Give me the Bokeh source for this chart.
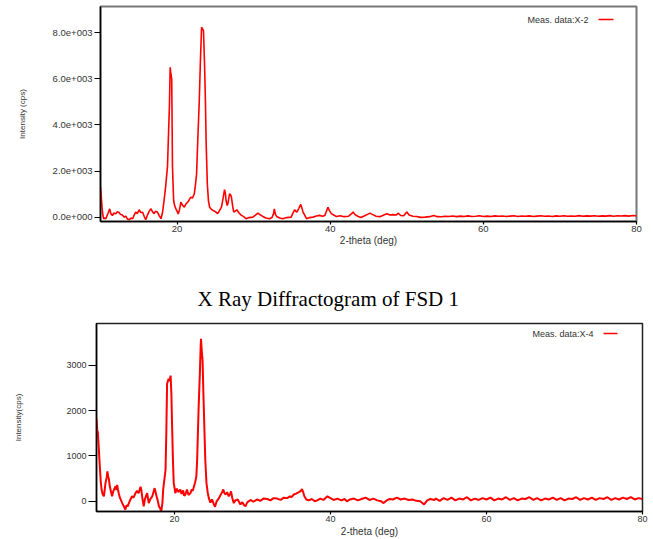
from bokeh.plotting import figure
from bokeh.models import FixedTicker, Range1d, Label, BoxAnnotation
from bokeh.embed import file_html
from bokeh.resources import INLINE

# ---------------- data: FSD sample X-2 (top) ----------------
two_theta_top = [
    10.0, 10.1, 10.2, 10.3, 10.4, 10.55, 10.7, 10.85, 11.0, 11.2, 11.35, 11.55, 11.75, 12.0, 12.2,
    12.4, 12.6, 12.85, 13.1, 13.3, 13.5, 13.75, 14.0, 14.2, 14.4, 14.6, 14.8, 15.05, 15.25, 15.5,
    15.7, 15.9, 16.1, 16.35, 16.6, 16.8, 17.0, 17.2, 17.45, 17.65, 17.9, 18.1, 18.3, 18.5, 18.75,
    18.9, 19.0, 19.1, 19.2, 19.3, 19.4, 19.55, 19.7, 19.85, 20.0, 20.15, 20.3, 20.5, 20.7, 20.95,
    21.2, 21.4, 21.6, 21.8, 22.0, 22.25, 22.4, 22.55, 22.7, 22.9, 23.05, 23.2, 23.35, 23.45, 23.6,
    23.7, 23.8, 23.95, 24.1, 24.25, 24.5, 24.7, 25.0, 25.3, 25.5, 25.8, 26.0, 26.2, 26.3, 26.4,
    26.55, 26.65, 26.85, 27.0, 27.1, 27.25, 27.4, 27.6, 27.8, 28.1, 28.4, 28.7, 29.0, 29.4, 29.9,
    30.2, 30.55, 30.9, 31.2, 31.6, 32.1, 32.4, 32.6, 32.7, 32.85, 33.0, 33.4, 33.8, 34.3, 34.9,
    35.1, 35.35, 35.5, 35.65, 35.9, 36.15, 36.3, 36.45, 36.7, 36.9, 37.3, 37.75, 38.2, 38.6, 39.0,
    39.3, 39.5, 39.7, 39.9, 40.15, 40.5, 40.8, 41.3, 41.8, 42.4, 42.8, 43.0, 43.2, 43.6, 44.0,
    44.5, 45.0, 45.2, 45.5, 46.0, 46.5, 47.0, 47.4, 47.8, 48.2, 48.6, 48.9, 49.2, 49.6, 50.0,
    50.3, 50.8, 51.3, 51.8, 52.4, 53.0, 53.5, 54.0,
    54.5, 55.0, 55.5, 56.0, 56.5, 57.0, 57.5, 58.0, 58.5, 59.0, 59.5, 60.0, 60.5, 61.0, 61.5,
    62.0, 62.5, 63.0, 63.5, 64.0, 64.5, 65.0, 65.5, 66.0, 66.5, 67.0, 67.5, 68.0, 68.5, 69.0,
    69.5, 70.0, 70.5, 71.0, 71.5, 72.0, 72.5, 73.0, 73.5, 74.0, 74.5, 75.0, 75.5, 76.0, 76.5,
    77.0, 77.5, 78.0, 78.5, 79.0, 79.5, 80.0,
]
intensity_top = [
    1300, 900, 430, 120, -70, -40, -70, 60, 180, 360, 150, 70, 180, 140, 230,
    210, 120, 90, 0, 40, -80, -110, -40, -70, 90, 220, 150, 320, 200, 210,
    40, -110, 60, 250, 360, 230, 150, 260, 210, 80, -70, 200, 720, 1300, 2200,
    3800, 4800, 6500, 6200, 6000, 2200, 720, 480, 360, 260, 140, 300, 650, 520, 430,
    600, 650, 760, 870, 820, 1010, 1400, 1880, 3300, 5060, 6800, 8240, 8150, 8100, 6500,
    5060, 3200, 1450, 700, 430, 330, 290, 240, 150, 260, 430, 800, 1190, 1050, 720,
    500, 600, 1010, 960, 870, 500, 220, 260, 320, 180, 75, 20, -70, -20, 0,
    80, 175, 90, 30, -40, -70, -20, 150, 360, 120, 30, -40, -70, -20, 0,
    150, 320, 260, 220, 380, 550, 400, 220, 60, -70, -20, 0, 50, 75, 40,
    75, 250, 430, 280, 150, 80, 30, 60, 20, 40, 150, 220, 120, 40, -20,
    60, 140, 175, 120, 40, 20, 90, 150, 90, 110, 90, 170, 70, 60, 220,
    90, 40, 30, -10, 0, 20, 75, 20,
    15, 40, 25, 50, 20, 45, 30, 55, 25, 40, 60, 30, 45, 25, 55,
    35, 50, 25, 45, 60, 30, 50, 35, 55, 30, 45, 60, 35, 50, 30,
    55, 40, 60, 35, 50, 40, 65, 35, 55, 45, 60, 40, 55, 45, 65,
    40, 60, 50, 65, 45, 70, 55,
]

# ---------------- data: FSD 1 sample X-4 (bottom) ----------------
two_theta_bottom = [
    10.0, 10.1, 10.17, 10.3, 10.4, 10.55, 10.65, 10.8, 10.95, 11.05, 11.15, 11.3, 11.4, 11.5, 11.6,
    11.7, 11.8, 11.9, 12.0, 12.15, 12.3, 12.45, 12.55, 12.65, 12.75, 12.85, 13.0, 13.15, 13.3, 13.5,
    13.7, 13.85, 14.0, 14.15, 14.35, 14.55, 14.75, 15.0, 15.2, 15.4, 15.65, 15.75, 15.85, 15.95, 16.05,
    16.2, 16.35, 16.5, 16.6, 16.7, 16.9, 17.15, 17.3, 17.45, 17.55, 17.7, 17.85, 18.0, 18.15, 18.3,
    18.45, 18.55, 18.7, 18.85, 18.95, 19.05, 19.15, 19.25, 19.35, 19.5, 19.6, 19.7, 19.8, 19.9, 20.0,
    20.1, 20.3, 20.5, 20.75, 20.9, 21.1, 21.25, 21.4, 21.6, 21.8, 22.05, 22.2, 22.35, 22.5, 22.65,
    22.8, 22.9, 23.0, 23.1, 23.25, 23.35, 23.4, 23.5, 23.6, 23.7, 23.85, 23.95, 24.1, 24.25, 24.4,
    24.6, 24.8, 25.05, 25.2, 25.4, 25.7, 25.9, 26.1, 26.25, 26.4, 26.55, 26.75, 26.95, 27.1, 27.25,
    27.4, 27.6, 27.8, 28.1, 28.3, 28.45, 28.7, 28.9, 29.1, 29.3, 29.5, 29.8, 30.1, 30.6, 31.0,
    31.4, 31.9, 32.3, 32.7, 33.15, 33.6, 34.0, 34.45, 34.8, 35.0, 35.3, 35.6, 35.95, 36.2, 36.35,
    36.5, 36.65, 36.9, 37.2, 37.6, 38.0, 38.3, 38.7, 39.1, 39.6, 40.0, 40.4, 40.9, 41.4, 41.8,
    42.1, 42.5, 43.0, 43.5, 44.0, 44.5, 45.0, 45.5, 46.0, 46.5, 46.8, 47.2, 47.6, 48.0, 48.5,
    49.0, 49.5, 50.0, 50.5, 51.0, 51.5, 52.0, 52.4, 52.8, 53.3,
    53.5, 54.0, 54.5, 55.0, 55.5, 56.0, 56.5, 57.0, 57.5, 58.0, 58.5, 59.0, 59.5, 60.0, 60.5,
    61.0, 61.5, 62.0, 62.5, 63.0, 63.5, 64.0, 64.5, 65.0, 65.5, 66.0, 66.5, 67.0, 67.5, 68.0,
    68.5, 69.0, 69.5, 70.0, 70.5, 71.0, 71.5, 72.0, 72.5, 73.0, 73.5, 74.0, 74.5, 75.0, 75.5,
    76.0, 76.5, 77.0, 77.5, 78.0, 78.5, 79.0, 79.5, 80.0,
]
intensity_bottom = [
    1830, 1550, 1530, 1150, 840, 420, 260, 150, 110, 250, 400, 520, 660, 540, 480,
    330, 260, 180, 110, 220, 280, 330, 250, 360, 260, 180, 80, 20, -40, -110,
    -180, -90, -110, -40, 40, 110, 80, 180, 230, 180, 320, 250, 110, 0, -110,
    40, 120, 180, 60, -40, 50, 110, 200, 290, 220, 110, 20, -110, -150, -220,
    -40, 260, 480, 690, 1500, 2590, 2650, 2700, 2650, 2770, 2370, 1600, 910, 400, 300,
    180, 280, 200, 260, 160, 240, 120, 150, 260, 140, 180, 260, 230, 330, 420,
    550, 900, 1500, 2100, 2810, 3400, 3580, 3300, 3100, 2400, 1500, 900, 400, 200, 70,
    -30, 40, -70, -120, 0, 70, 140, 200, 260, 180, 150, 200, 110, 150, 220,
    80, -40, 20, 40, -20, -70, -20, -80, -110, -30, 0, 30, -10, 40, 10,
    60, 50, 20, 70, 60, 30, 80, 70, 110, 90, 150, 170, 200, 230, 270,
    200, 110, 40, 20, 50, 0, 20, 60, 30, 110, 70, 30, 60, 20, 50,
    0, 40, 60, 20, 50, 80, 30, 60, 20, 0, -40, 20, 50, 40, 80,
    40, 60, 30, 40, 10, 0, -70, 20, 50, 30,
    60, 10, 70, 30, 80, 20, 60, 40, 90, 20, 60, 30, 70, 40, 80,
    20, 60, 40, 90, 30, 70, 20, 60, 50, 90, 30, 70, 20, 60, 40,
    80, 30, 70, 20, 60, 50, 90, 30, 70, 40, 80, 30, 70, 50, 90,
    30, 70, 40, 80, 50, 90, 40, 70, 50,
]

# ---------------- ticks / labels ----------------
x_ticks = [20, 40, 60, 80]
y_ticks_top = [0, 2000, 4000, 6000, 8000]
y_tick_labels_top = ["0.0e+000", "2.0e+003", "4.0e+003", "6.0e+003", "8.0e+003"]
y_ticks_bottom = [0, 1000, 2000, 3000]
legend_top = "Meas. data:X-2"
legend_bottom = "Meas. data:X-4"
caption = "X Ray Diffractogram of FSD 1"
x_label = "2-theta (deg)"
y_label_top = "Intensity (cps)"
y_label_bottom = "Intensity(cps)"

SANS = "Liberation Sans"
TXT = "#333333"


def style_axes(p, tick_out_y, ylab_standoff, font_tick, xlab_standoff):
    for ax in (p.xaxis[0], p.yaxis[0]):
        ax.axis_line_color = "black"
        ax.axis_line_width = 1.5
        ax.major_tick_line_color = "black"
        ax.major_tick_line_width = 1.2
        ax.minor_tick_line_color = None
        ax.major_tick_in = 0
        ax.major_label_text_font = SANS
        ax.major_label_text_font_size = font_tick
        ax.major_label_text_color = TXT
        ax.axis_label_text_font = SANS
        ax.axis_label_text_font_style = "normal"
        ax.axis_label_text_color = TXT
    p.xaxis.major_tick_out = 3
    p.xaxis.major_label_standoff = 1
    p.xaxis.axis_label_standoff = xlab_standoff
    p.xaxis.axis_label_text_font_size = "10px"
    p.yaxis.major_tick_out = tick_out_y
    p.yaxis.major_label_standoff = 2
    p.yaxis.axis_label_standoff = ylab_standoff
    p.yaxis.axis_label_text_font_size = "8px"
    p.xgrid.grid_line_color = None
    p.ygrid.grid_line_color = None
    p.xaxis.ticker = FixedTicker(ticks=x_ticks)


# ---------------- top figure ----------------
p1 = figure(width=653, height=252, output_backend="svg", toolbar_location=None,
            title_location=None,
            x_range=Range1d(10, 80), y_range=Range1d(-190, 9140),
            min_border_left=100, min_border_right=17, min_border_top=6, min_border_bottom=31)
p1.line(two_theta_top, intensity_top, line_color="#ff0000", line_width=1.6)
p1.outline_line_color = "#777777"
p1.outline_line_width = 2
p1.xaxis.axis_label = x_label
p1.yaxis.axis_label = y_label_top
style_axes(p1, 6, 23, "9.5px", 0)
p1.yaxis.ticker = FixedTicker(ticks=y_ticks_top)
p1.yaxis.major_label_overrides = dict(zip(y_ticks_top, y_tick_labels_top))
p1.add_layout(Label(x=488, y=202, x_units="screen", y_units="screen", text=legend_top,
                    text_align="right", text_baseline="middle", text_font=SANS,
                    text_font_size="9px", text_color=TXT))
p1.add_layout(BoxAnnotation(left=498, right=513, bottom=201.3, top=202.7,
                            left_units="screen", right_units="screen",
                            bottom_units="screen", top_units="screen",
                            fill_color="#ff0000", fill_alpha=1, line_color=None))

# ---------------- bottom figure ----------------
p2 = figure(width=653, height=287, output_backend="svg", toolbar_location=None,
            x_range=Range1d(10, 80), y_range=Range1d(-225, 3920),
            min_border_left=96, min_border_right=11, min_border_top=71, min_border_bottom=27)
p2.line(two_theta_bottom, intensity_bottom, line_color="#ff0000", line_width=2.0)
p2.outline_line_color = "#222222"
p2.outline_line_width = 1.5
p2.xaxis.axis_label = x_label
p2.yaxis.axis_label = y_label_bottom
style_axes(p2, 8, 40, "9px", 1)
p2.yaxis.ticker = FixedTicker(ticks=y_ticks_bottom)
p2.title.text = caption
p2.title.text_font = "Liberation Serif"
p2.title.text_font_size = "21px"
p2.title.text_font_style = "normal"
p2.title.text_color = "black"
p2.title.align = "left"
p2.title.offset = 101
p2.title.standoff = 25
p2.add_layout(Label(x=497, y=178, x_units="screen", y_units="screen", text=legend_bottom,
                    text_align="right", text_baseline="middle", text_font=SANS,
                    text_font_size="9px", text_color=TXT))
p2.add_layout(BoxAnnotation(left=507, right=521, bottom=177.3, top=178.7,
                            left_units="screen", right_units="screen",
                            bottom_units="screen", top_units="screen",
                            fill_color="#ff0000", fill_alpha=1, line_color=None))

# two independent roots stacked on the page (keeps each frame's own borders)
open("out.html", "w").write(file_html([p1, p2], INLINE))
